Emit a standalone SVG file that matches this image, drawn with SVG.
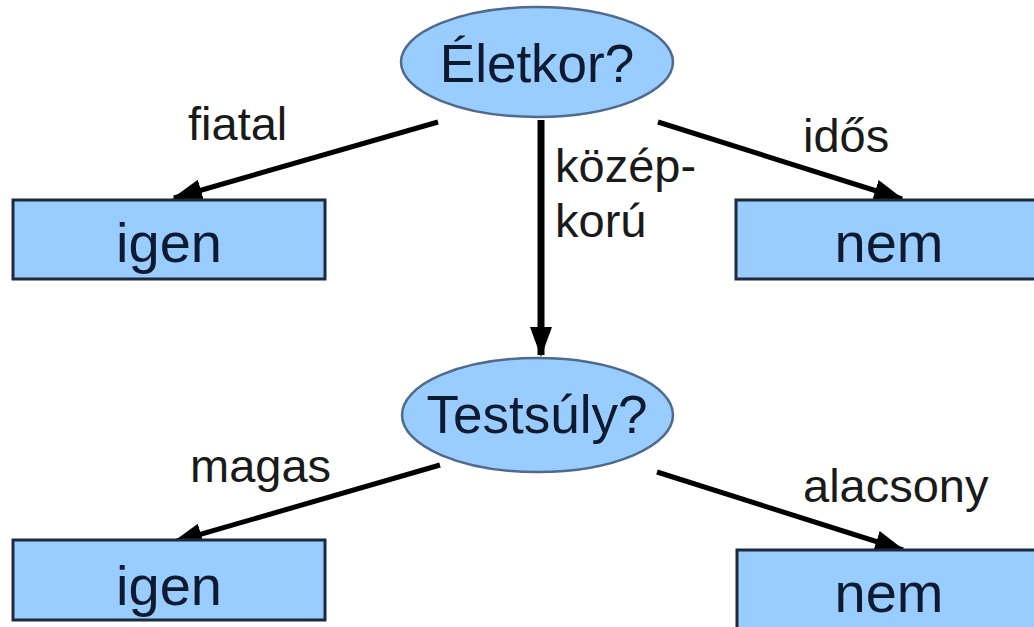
<svg xmlns="http://www.w3.org/2000/svg" width="1034" height="627" viewBox="0 0 1034 627">
<style>
.ell{fill:#99ccff;stroke:#4f6a8a;stroke-width:2.5}
.box{fill:#99ccff;stroke:#1c2a3c;stroke-width:3}
.ntxt{font-family:"Liberation Sans",Arial,sans-serif;fill:#0e1a30;text-anchor:middle}
.lbl{font-family:"Liberation Sans",Arial,sans-serif;font-size:47px;fill:#1a1a1a}
.edge{stroke:#000;stroke-width:5;fill:none;marker-end:url(#ah)}
</style>
<defs>
<marker id="ah" markerUnits="userSpaceOnUse" markerWidth="30" markerHeight="24" viewBox="0 0 30 24" refX="28" refY="12" orient="auto">
<path d="M0,1 L30,12 L0,23 Z" fill="#000"/>
</marker>
</defs>
<rect width="1034" height="627" fill="#fff"/>
<g id="connectors">
<line class="edge" x1="438" y1="122" x2="174" y2="198"/>
<line class="edge" x1="658" y1="122" x2="902" y2="199"/>
<line class="edge" x1="541" y1="120" x2="541" y2="355" style="stroke-width:7"/>
<line class="edge" x1="440" y1="465" x2="174" y2="542"/>
<line class="edge" x1="657" y1="472" x2="903" y2="550"/>
</g>
<g id="labels">
<text class="lbl" x="188" y="140">fiatal</text>
<text class="lbl" x="803" y="152">idős</text>
<text class="lbl" x="555" y="182">közép-</text>
<text class="lbl" x="555" y="237">korú</text>
<text class="lbl" x="190" y="482">magas</text>
<text class="lbl" x="803" y="502">alacsony</text>
</g>
<g id="eletkor">
<ellipse class="ell" cx="537" cy="62" rx="136" ry="55"/>
<text class="ntxt" x="537" y="82" font-size="53">Életkor?</text>
</g>
<g id="igen1">
<rect class="box" x="13" y="200" width="312" height="79"/>
<text class="ntxt" x="169" y="262" font-size="56">igen</text>
</g>
<g id="nem1">
<rect class="box" x="736" y="200" width="312" height="79"/>
<text class="ntxt" x="889" y="262" font-size="56">nem</text>
</g>
<g id="testsuly">
<ellipse class="ell" cx="537.5" cy="415" rx="135.5" ry="57"/>
<text class="ntxt" x="537" y="433" font-size="53">Testsúly?</text>
</g>
<g id="igen2">
<rect class="box" x="13" y="540" width="312" height="80"/>
<text class="ntxt" x="169" y="605" font-size="56">igen</text>
</g>
<g id="nem2">
<rect class="box" x="737" y="550" width="312" height="90"/>
<text class="ntxt" x="889" y="612" font-size="56">nem</text>
</g>
</svg>
